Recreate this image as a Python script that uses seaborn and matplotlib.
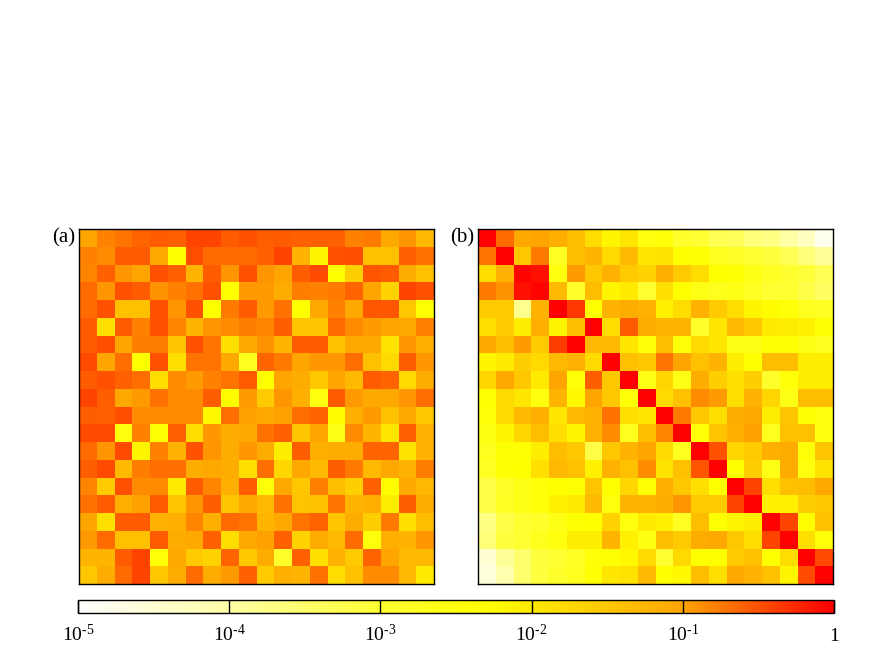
"""
Correlation matrices (a) and (b) with a shared log colour scale.
"""

import matplotlib
matplotlib.use('Agg')
import matplotlib.pyplot as plt
from matplotlib.colors import LinearSegmentedColormap, LogNorm
import numpy as np
import seaborn as sns

# log10 of each cell
panel_a_log10 = [
    [-1.0, -.8, -.72, -.62, -.55, -.6, -.42, -.42, -.55, -.5, -.58, -.55, -.6, -.6, -.6, -.8, -.75, -1.05, -.9, -1.3],
    [-.8, -.85, -.55, -.55, -1.05, -2.3, -.48, -.65, -.65, -.65, -.6, -.42, -1.2, -2.15, -.5, -.48, -1.4, -1.4, -.6, -.7],
    [-.82, -.6, -.9, -1.0, -.5, -.6, -1.25, -.55, -.9, -.5, -.9, -1.0, -.58, -.45, -2.3, -1.6, -.52, -.55, -1.1, -1.4],
    [-.65, -.9, -.5, -.55, -.88, -.8, -.7, -.5, -2.3, -.95, -.95, -1.1, -.78, -.8, -.75, -.62, -1.0, -1.65, -.42, -.5],
    [-.65, -.5, -1.4, -1.4, -.5, -.9, -.5, -2.3, -.75, -.55, -.95, -.7, -2.3, -1.05, -.8, -1.05, -.53, -.53, -1.5, -2.35],
    [-.55, -1.85, -.55, -.8, -.5, -.82, -1.25, -.9, -.85, -.78, -.82, -.58, -1.45, -1.45, -.65, -.85, -.95, -1.0, -1.05, -.8],
    [-.55, -.48, -1.0, -.78, -.78, -1.45, -.5, -.72, -1.85, -1.05, -.88, -1.25, -.55, -.55, -1.4, -1.05, -1.05, -1.9, -.92, -1.15],
    [-.45, -1.0, -.68, -2.3, -.5, -1.85, -.72, -.72, -1.05, -2.7, -.62, -.75, -1.0, -.92, -.92, -.68, -1.4, -1.75, -.58, -.92],
    [-.55, -.5, -.6, -.68, -1.8, -.85, -.95, -.8, -.72, -.55, -2.3, -1.0, -1.1, -1.5, -1.0, -1.3, -.55, -.62, -1.75, -1.1],
    [-.42, -.58, -1.05, -.95, -.7, -.85, -.85, -.58, -2.25, -.95, -1.55, -.9, -1.15, -2.5, -.55, -.95, -1.05, -1.05, -.9, -.68],
    [-.58, -.6, -.48, -.85, -.85, -.85, -.85, -2.2, -.68, -.98, -1.05, -.98, -.68, -.62, -2.25, -1.15, -.95, -1.4, -1.05, -1.5],
    [-.45, -.45, -2.45, -.8, -2.35, -.6, -1.8, -.92, -1.1, -1.05, -.7, -.6, -1.45, -1.0, -2.6, -.85, -1.25, -1.95, -.6, -1.2],
    [-.65, -.9, -.45, -2.15, -.8, -1.2, -.5, -.9, -1.1, -.92, -1.1, -2.05, -.58, -1.15, -1.1, -1.1, -.62, -.62, -1.9, -1.2],
    [-.58, -.45, -1.3, -.78, -.68, -.68, -1.1, -1.05, -1.1, -1.85, -.68, -1.7, -1.05, -1.3, -.58, -.75, -1.3, -1.05, -1.2, -.78],
    [-.82, -1.55, -.5, -.85, -.85, -2.0, -.55, -.82, -1.15, -.55, -2.4, -1.05, -1.5, -.8, -1.35, -1.6, -.6, -2.25, -1.05, -1.3],
    [-.7, -.55, -1.15, -.98, -.55, -1.45, -.9, -.58, -1.45, -1.05, -1.3, -.7, -1.45, -1.4, -.72, -1.25, -1.15, -2.05, -.58, -1.1],
    [-1.0, -1.85, -.55, -.55, -1.2, -1.15, -.82, -1.15, -.65, -.72, -1.25, -1.05, -.72, -.62, -1.45, -1.1, -1.6, -.75, -1.85, -1.35],
    [-.95, -.65, -1.4, -1.4, -.55, -1.1, -1.05, -.6, -1.8, -1.05, -.98, -.6, -1.65, -1.1, -1.3, -.65, -2.45, -1.15, -1.2, -.9],
    [-1.25, -1.25, -.55, -.42, -2.4, -1.05, -1.55, -1.65, -.62, -1.5, -1.1, -2.9, -.6, -1.85, -1.2, -1.55, -.62, -1.0, -1.3, -1.3],
    [-1.5, -1.1, -.65, -.42, -1.5, -1.1, -.65, -1.1, -.95, -.6, -1.55, -1.15, -1.25, -.7, -1.8, -1.4, -.85, -.85, -1.3, -2.0],
]

panel_b_log10 = [
    [0, -.65, -1.05, -1.0, -1.15, -1.35, -1.8, -2.15, -1.95, -2.5, -2.4, -2.9, -3.0, -3.3, -3.35, -3.6, -3.7, -4.0, -4.3, -4.8],
    [-.72, 0, -1.5, -.75, -2.8, -1.35, -1.25, -1.75, -1.3, -1.95, -1.9, -2.3, -2.35, -2.7, -2.85, -3.0, -3.1, -3.3, -3.6, -3.9],
    [-1.8, -1.2, -.02, -.1, -2.5, -.95, -1.5, -1.2, -1.55, -1.65, -1.15, -1.55, -1.8, -2.3, -2.35, -2.6, -2.8, -2.95, -3.05, -3.3],
    [-.75, -.88, -.1, -.03, -1.3, -2.9, -1.35, -2.15, -2.0, -3.0, -1.85, -2.3, -2.6, -2.7, -2.6, -2.8, -3.0, -3.0, -3.2, -3.4],
    [-1.55, -1.55, -3.8, -1.2, 0, -.35, -2.3, -1.2, -1.1, -1.2, -2.1, -1.8, -1.2, -1.55, -1.8, -2.15, -2.25, -2.4, -2.7, -2.8],
    [-1.85, -1.55, -2.05, -1.15, -2.15, -1.35, 0, -1.8, -.55, -1.1, -1.25, -1.25, -2.9, -1.95, -1.3, -1.5, -2.0, -2.05, -2.1, -2.35],
    [-1.05, -1.35, -.95, -1.55, -.38, 0, -1.3, -1.3, -1.95, -2.4, -1.35, -2.4, -1.75, -1.95, -2.6, -2.6, -2.35, -2.35, -2.6, -2.7],
    [-2.15, -2.0, -1.6, -1.75, -1.3, -1.2, -1.75, 0, -1.4, -1.5, -.72, -1.0, -1.4, -1.2, -2.05, -2.3, -1.35, -1.35, -2.05, -2.05],
    [-1.7, -1.05, -1.5, -2.0, -1.0, -2.4, -.58, -1.5, 0, -2.6, -1.7, -2.6, -1.1, -1.6, -1.85, -1.6, -2.9, -2.4, -2.05, -2.05],
    [-2.35, -1.75, -1.95, -2.5, -1.25, -2.2, -1.0, -1.5, -2.4, 0, -1.75, -1.4, -.85, -.95, -1.85, -1.2, -1.7, -2.6, -1.35, -1.35],
    [-2.4, -1.75, -1.3, -1.15, -1.95, -1.3, -1.2, -.7, -1.85, -1.95, 0, -.75, -1.5, -1.85, -1.1, -1.05, -2.05, -1.45, -2.35, -2.5],
    [-2.55, -2.15, -1.7, -1.35, -1.85, -2.15, -1.2, -.85, -2.7, -1.35, -.82, 0, -2.4, -1.45, -1.15, -.98, -2.7, -1.4, -1.4, -2.5],
    [-2.7, -2.35, -2.35, -2.05, -1.35, -1.5, -3.2, -1.5, -1.2, -1.0, -1.75, -2.7, 0, -.5, -1.7, -1.55, -1.15, -1.1, -2.4, -1.45],
    [-2.8, -2.35, -2.3, -1.85, -1.3, -1.4, -2.1, -1.2, -1.4, -.85, -1.9, -1.4, -.52, 0, -2.3, -1.6, -2.6, -1.1, -2.5, -1.9],
    [-3.2, -2.85, -2.6, -2.4, -2.3, -2.35, -1.45, -2.3, -1.7, -2.35, -1.15, -1.5, -1.85, -2.3, 0, -.42, -1.85, -1.4, -1.35, -1.05],
    [-3.2, -2.8, -2.6, -2.4, -2.1, -2.0, -1.3, -2.45, -1.25, -1.25, -1.1, -.9, -1.55, -1.55, -.42, 0, -2.1, -2.1, -1.6, -1.5],
    [-3.7, -3.2, -3.0, -2.9, -2.6, -2.35, -2.3, -1.65, -2.5, -2.0, -2.1, -2.8, -1.35, -2.35, -2.15, -2.05, 0, -.42, -2.3, -1.4],
    [-3.6, -3.1, -3.0, -2.7, -2.5, -2.05, -2.05, -1.25, -2.1, -2.55, -1.35, -1.55, -1.1, -1.05, -1.5, -1.8, -.42, 0, -1.85, -2.4],
    [-4.5, -3.9, -3.5, -3.1, -3.0, -2.8, -2.4, -2.35, -2.2, -1.75, -3.0, -1.75, -2.3, -2.3, -1.55, -1.4, -2.3, -1.8, 0, -.45],
    [-4.6, -4.1, -3.5, -3.1, -2.9, -2.7, -2.35, -1.95, -1.9, -1.3, -2.3, -2.2, -1.35, -1.85, -1.05, -1.2, -1.4, -2.15, -.45, 0],
]

bar_ticks = [1e-5, 1e-4, 1e-3, 1e-2, 1e-1, 1]
bar_tick_labels = ['10$^{\\text{-5}}$', '10$^{\\text{-4}}$', '10$^{\\text{-3}}$',
                   '10$^{\\text{-2}}$', '10$^{\\text{-1}}$', '$1$']
panel_letters = ['(a)', '(b)']

sns.set_theme(style='white')
plt.rcParams['font.family'] = ['Liberation Serif', 'DejaVu Serif']
plt.rcParams['mathtext.fontset'] = 'custom'
plt.rcParams['mathtext.rm'] = 'Liberation Serif'
plt.rcParams['mathtext.default'] = 'regular'

# white -> yellow -> orange -> red, stops placed on the log axis (0 = 1e-5, 1 = 1)
heat = LinearSegmentedColormap.from_list('heat', [
    (0.0, '#ffffff'),
    (0.2, '#ffffa5'),
    (0.4, '#ffff32'),
    (0.54, '#ffff00'),
    (0.8, '#ffa500'),
    (1.0, '#ff0000'),
])
norm = LogNorm(vmin=1e-5, vmax=1)

W, H = 872, 666
fig = plt.figure(figsize=(W / 100, H / 100), dpi=100)
ax_a = fig.add_axes([79 / W, 1 - 584 / H, 355 / W, 355 / H])
ax_b = fig.add_axes([478 / W, 1 - 584 / H, 355 / W, 355 / H])
ax_bar = fig.add_axes([78 / W, 1 - 613 / H, 756 / W, 13 / H])

sns.heatmap(10.0 ** np.array(panel_a_log10), ax=ax_a, cmap=heat, norm=norm, cbar=False,
            square=False, xticklabels=False, yticklabels=False)
sns.heatmap(10.0 ** np.array(panel_b_log10), ax=ax_b, cmap=heat, norm=norm, cbar=True,
            cbar_ax=ax_bar, cbar_kws={'orientation': 'horizontal', 'ticks': bar_ticks},
            square=False, xticklabels=False, yticklabels=False)

for ax, letter in zip([ax_a, ax_b], panel_letters):
    for spine in ax.spines.values():
        spine.set_visible(True)
        spine.set_color('black')
        spine.set_linewidth(1.0)
    ax.text(-0.01, 0.975, letter, transform=ax.transAxes, ha='right', va='center',
            fontsize=15, color='black')

cbar = ax_b.collections[0].colorbar
cbar.outline.set_visible(True)
cbar.outline.set_edgecolor('black')
cbar.outline.set_linewidth(1.0)
cbar.ax.minorticks_off()
cbar.ax.set_axisbelow(False)
cbar.set_ticks(bar_ticks, labels=bar_tick_labels)
cbar.ax.tick_params(axis='x', direction='in', length=9.4, width=1.0, color='black',
                    labelsize=14, labelcolor='black', pad=20, bottom=True)
# keep "1" on the same baseline as the powers of ten
for label in cbar.ax.get_xticklabels():
    label.set_verticalalignment('baseline')

fig.savefig('out.png', dpi=100, facecolor='white')
